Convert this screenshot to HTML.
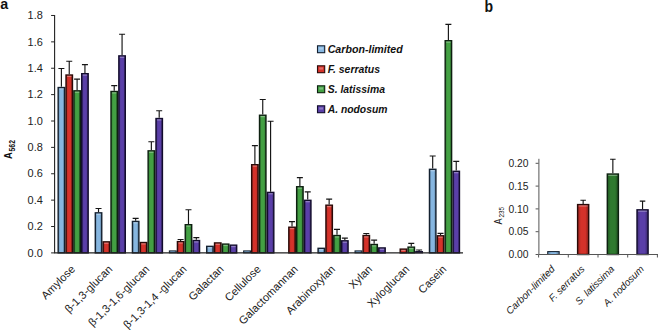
<!DOCTYPE html>
<html><head><meta charset="utf-8"><title>Figure</title>
<style>html,body{margin:0;padding:0;background:#fff}svg{display:block}</style></head>
<body>
<svg width="658" height="330" viewBox="0 0 658 330" font-family="'Liberation Sans', Arial, sans-serif">
<rect width="658" height="330" fill="#fff"/>
<defs>
<linearGradient id="g0" x1="0" x2="1" y1="0" y2="0"><stop offset="0" stop-color="#6083a1"/><stop offset="0.3" stop-color="#86b6e0"/><stop offset="0.7" stop-color="#86b6e0"/><stop offset="1" stop-color="#506d86"/></linearGradient>
<linearGradient id="g1" x1="0" x2="1" y1="0" y2="0"><stop offset="0" stop-color="#99241e"/><stop offset="0.3" stop-color="#d5322a"/><stop offset="0.7" stop-color="#d5322a"/><stop offset="1" stop-color="#7f1e19"/></linearGradient>
<linearGradient id="g2" x1="0" x2="1" y1="0" y2="0"><stop offset="0" stop-color="#307330"/><stop offset="0.3" stop-color="#43a043"/><stop offset="0.7" stop-color="#43a043"/><stop offset="1" stop-color="#286028"/></linearGradient>
<linearGradient id="g3" x1="0" x2="1" y1="0" y2="0"><stop offset="0" stop-color="#402d78"/><stop offset="0.3" stop-color="#5a3fa8"/><stop offset="0.7" stop-color="#5a3fa8"/><stop offset="1" stop-color="#362564"/></linearGradient>
<linearGradient id="g4" x1="0" x2="1" y1="0" y2="0"><stop offset="0" stop-color="#215721"/><stop offset="0.3" stop-color="#2f7a2f"/><stop offset="0.7" stop-color="#2f7a2f"/><stop offset="1" stop-color="#1c491c"/></linearGradient>
</defs>
<path d="M61.39 86.84V68.50M58.39 68.50H64.39" stroke="#151515" stroke-width="1.15" fill="none"/>
<rect x="58.17" y="87.54" width="6.45" height="165.36" fill="url(#g0)" stroke="#142130" stroke-width="1.4"/>
<rect x="59.16" y="88.24" width="4.45" height="1.3" fill="#fff" opacity="0.33"/>
<path d="M69.24 74.31V61.25M66.24 61.25H72.24" stroke="#151515" stroke-width="1.15" fill="none"/>
<rect x="66.02" y="75.01" width="6.45" height="177.89" fill="url(#g1)" stroke="#2a0a08" stroke-width="1.4"/>
<rect x="67.02" y="75.71" width="4.45" height="1.3" fill="#fff" opacity="0.33"/>
<path d="M77.09 90.14V79.06M74.09 79.06H80.09" stroke="#151515" stroke-width="1.15" fill="none"/>
<rect x="73.87" y="90.84" width="6.45" height="162.06" fill="url(#g2)" stroke="#0d2010" stroke-width="1.4"/>
<rect x="74.87" y="91.54" width="4.45" height="1.3" fill="#fff" opacity="0.33"/>
<path d="M84.94 72.99V64.55M81.94 64.55H87.94" stroke="#151515" stroke-width="1.15" fill="none"/>
<rect x="81.72" y="73.69" width="6.45" height="179.21" fill="url(#g3)" stroke="#120c2c" stroke-width="1.4"/>
<rect x="82.72" y="74.39" width="4.45" height="1.3" fill="#fff" opacity="0.33"/>
<path d="M98.52 212.14V208.45M95.52 208.45H101.52" stroke="#151515" stroke-width="1.15" fill="none"/>
<rect x="95.30" y="212.84" width="6.45" height="40.06" fill="url(#g0)" stroke="#142130" stroke-width="1.4"/>
<rect x="96.30" y="213.54" width="4.45" height="1.3" fill="#fff" opacity="0.33"/>
<rect x="103.14" y="241.86" width="6.45" height="11.04" fill="url(#g1)" stroke="#2a0a08" stroke-width="1.4"/>
<rect x="104.14" y="242.56" width="4.45" height="1.3" fill="#fff" opacity="0.33"/>
<path d="M114.22 90.79V85.65M111.22 85.65H117.22" stroke="#151515" stroke-width="1.15" fill="none"/>
<rect x="111.00" y="91.49" width="6.45" height="161.41" fill="url(#g2)" stroke="#0d2010" stroke-width="1.4"/>
<rect x="112.00" y="92.19" width="4.45" height="1.3" fill="#fff" opacity="0.33"/>
<path d="M122.07 55.18V34.21M119.07 34.21H125.07" stroke="#151515" stroke-width="1.15" fill="none"/>
<rect x="118.84" y="55.88" width="6.45" height="197.02" fill="url(#g3)" stroke="#120c2c" stroke-width="1.4"/>
<rect x="119.84" y="56.58" width="4.45" height="1.3" fill="#fff" opacity="0.33"/>
<path d="M135.65 220.72V218.34M132.65 218.34H138.65" stroke="#151515" stroke-width="1.15" fill="none"/>
<rect x="132.43" y="221.42" width="6.45" height="31.48" fill="url(#g0)" stroke="#142130" stroke-width="1.4"/>
<rect x="133.43" y="222.12" width="4.45" height="1.3" fill="#fff" opacity="0.33"/>
<rect x="140.28" y="242.52" width="6.45" height="10.38" fill="url(#g1)" stroke="#2a0a08" stroke-width="1.4"/>
<rect x="141.28" y="243.22" width="4.45" height="1.3" fill="#fff" opacity="0.33"/>
<path d="M151.35 150.15V141.71M148.35 141.71H154.35" stroke="#151515" stroke-width="1.15" fill="none"/>
<rect x="148.12" y="150.85" width="6.45" height="102.05" fill="url(#g2)" stroke="#0d2010" stroke-width="1.4"/>
<rect x="149.13" y="151.55" width="4.45" height="1.3" fill="#fff" opacity="0.33"/>
<path d="M159.20 117.83V110.71M156.20 110.71H162.20" stroke="#151515" stroke-width="1.15" fill="none"/>
<rect x="155.98" y="118.53" width="6.45" height="134.37" fill="url(#g3)" stroke="#120c2c" stroke-width="1.4"/>
<rect x="156.98" y="119.23" width="4.45" height="1.3" fill="#fff" opacity="0.33"/>
<rect x="169.36" y="250.89" width="6.85" height="2.01" fill="url(#g0)" stroke="#142130" stroke-width="1.0"/>
<path d="M180.63 240.90V239.45M177.63 239.45H183.63" stroke="#151515" stroke-width="1.15" fill="none"/>
<rect x="177.41" y="241.60" width="6.45" height="11.30" fill="url(#g1)" stroke="#2a0a08" stroke-width="1.4"/>
<rect x="178.41" y="242.30" width="4.45" height="1.3" fill="#fff" opacity="0.33"/>
<path d="M188.48 224.01V209.77M185.48 209.77H191.48" stroke="#151515" stroke-width="1.15" fill="none"/>
<rect x="185.25" y="224.71" width="6.45" height="28.19" fill="url(#g2)" stroke="#0d2010" stroke-width="1.4"/>
<rect x="186.26" y="225.41" width="4.45" height="1.3" fill="#fff" opacity="0.33"/>
<path d="M196.33 239.84V237.60M193.33 237.60H199.33" stroke="#151515" stroke-width="1.15" fill="none"/>
<rect x="193.11" y="240.54" width="6.45" height="12.36" fill="url(#g3)" stroke="#120c2c" stroke-width="1.4"/>
<rect x="194.11" y="241.24" width="4.45" height="1.3" fill="#fff" opacity="0.33"/>
<rect x="206.69" y="246.35" width="6.45" height="6.55" fill="url(#g0)" stroke="#142130" stroke-width="1.4"/>
<rect x="207.69" y="247.05" width="4.45" height="1.3" fill="#fff" opacity="0.33"/>
<rect x="214.53" y="242.92" width="6.45" height="9.98" fill="url(#g1)" stroke="#2a0a08" stroke-width="1.4"/>
<rect x="215.54" y="243.62" width="4.45" height="1.3" fill="#fff" opacity="0.33"/>
<rect x="222.38" y="244.10" width="6.45" height="8.80" fill="url(#g2)" stroke="#0d2010" stroke-width="1.4"/>
<rect x="223.39" y="244.80" width="4.45" height="1.3" fill="#fff" opacity="0.33"/>
<rect x="230.24" y="245.16" width="6.45" height="7.74" fill="url(#g3)" stroke="#120c2c" stroke-width="1.4"/>
<rect x="231.24" y="245.86" width="4.45" height="1.3" fill="#fff" opacity="0.33"/>
<rect x="243.62" y="250.89" width="6.85" height="2.01" fill="url(#g0)" stroke="#142130" stroke-width="1.0"/>
<path d="M254.89 164.00V145.67M251.89 145.67H257.89" stroke="#151515" stroke-width="1.15" fill="none"/>
<rect x="251.66" y="164.70" width="6.45" height="88.20" fill="url(#g1)" stroke="#2a0a08" stroke-width="1.4"/>
<rect x="252.67" y="165.40" width="4.45" height="1.3" fill="#fff" opacity="0.33"/>
<path d="M262.74 114.54V99.50M259.74 99.50H265.74" stroke="#151515" stroke-width="1.15" fill="none"/>
<rect x="259.51" y="115.24" width="6.45" height="137.66" fill="url(#g2)" stroke="#0d2010" stroke-width="1.4"/>
<rect x="260.51" y="115.94" width="4.45" height="1.3" fill="#fff" opacity="0.33"/>
<path d="M270.59 191.70V121.26M267.59 121.26H273.59" stroke="#151515" stroke-width="1.15" fill="none"/>
<rect x="267.37" y="192.40" width="6.45" height="60.50" fill="url(#g3)" stroke="#120c2c" stroke-width="1.4"/>
<rect x="268.37" y="193.10" width="4.45" height="1.3" fill="#fff" opacity="0.33"/>
<path d="M292.02 226.52V221.64M289.02 221.64H295.02" stroke="#151515" stroke-width="1.15" fill="none"/>
<rect x="288.80" y="227.22" width="6.45" height="25.68" fill="url(#g1)" stroke="#2a0a08" stroke-width="1.4"/>
<rect x="289.80" y="227.92" width="4.45" height="1.3" fill="#fff" opacity="0.33"/>
<path d="M299.87 186.03V177.59M296.87 177.59H302.87" stroke="#151515" stroke-width="1.15" fill="none"/>
<rect x="296.65" y="186.73" width="6.45" height="66.17" fill="url(#g2)" stroke="#0d2010" stroke-width="1.4"/>
<rect x="297.65" y="187.43" width="4.45" height="1.3" fill="#fff" opacity="0.33"/>
<path d="M307.72 199.61V191.83M304.72 191.83H310.72" stroke="#151515" stroke-width="1.15" fill="none"/>
<rect x="304.50" y="200.31" width="6.45" height="52.59" fill="url(#g3)" stroke="#120c2c" stroke-width="1.4"/>
<rect x="305.50" y="201.01" width="4.45" height="1.3" fill="#fff" opacity="0.33"/>
<rect x="318.08" y="248.32" width="6.45" height="4.58" fill="url(#g0)" stroke="#142130" stroke-width="1.4"/>
<rect x="319.08" y="249.02" width="4.45" height="1.3" fill="#fff" opacity="0.33"/>
<path d="M329.15 204.49V199.08M326.15 199.08H332.15" stroke="#151515" stroke-width="1.15" fill="none"/>
<rect x="325.93" y="205.19" width="6.45" height="47.71" fill="url(#g1)" stroke="#2a0a08" stroke-width="1.4"/>
<rect x="326.93" y="205.89" width="4.45" height="1.3" fill="#fff" opacity="0.33"/>
<path d="M337.00 234.83V229.42M334.00 229.42H340.00" stroke="#151515" stroke-width="1.15" fill="none"/>
<rect x="333.78" y="235.53" width="6.45" height="17.37" fill="url(#g2)" stroke="#0d2010" stroke-width="1.4"/>
<rect x="334.78" y="236.23" width="4.45" height="1.3" fill="#fff" opacity="0.33"/>
<path d="M344.85 240.11V238.13M341.85 238.13H347.85" stroke="#151515" stroke-width="1.15" fill="none"/>
<rect x="341.63" y="240.81" width="6.45" height="12.09" fill="url(#g3)" stroke="#120c2c" stroke-width="1.4"/>
<rect x="342.63" y="241.51" width="4.45" height="1.3" fill="#fff" opacity="0.33"/>
<rect x="355.01" y="250.89" width="6.85" height="2.01" fill="url(#g0)" stroke="#142130" stroke-width="1.0"/>
<path d="M366.28 234.83V233.51M363.28 233.51H369.28" stroke="#151515" stroke-width="1.15" fill="none"/>
<rect x="363.06" y="235.53" width="6.45" height="17.37" fill="url(#g1)" stroke="#2a0a08" stroke-width="1.4"/>
<rect x="364.06" y="236.23" width="4.45" height="1.3" fill="#fff" opacity="0.33"/>
<path d="M374.13 243.80V240.11M371.13 240.11H377.13" stroke="#151515" stroke-width="1.15" fill="none"/>
<rect x="370.91" y="244.50" width="6.45" height="8.40" fill="url(#g2)" stroke="#0d2010" stroke-width="1.4"/>
<rect x="371.91" y="245.20" width="4.45" height="1.3" fill="#fff" opacity="0.33"/>
<rect x="378.76" y="247.93" width="6.45" height="4.97" fill="url(#g3)" stroke="#120c2c" stroke-width="1.4"/>
<rect x="379.76" y="248.63" width="4.45" height="1.3" fill="#fff" opacity="0.33"/>
<rect x="400.19" y="249.12" width="6.45" height="3.78" fill="url(#g1)" stroke="#2a0a08" stroke-width="1.4"/>
<rect x="401.19" y="249.82" width="4.45" height="1.3" fill="#fff" opacity="0.33"/>
<path d="M411.26 246.44V243.40M408.26 243.40H414.26" stroke="#151515" stroke-width="1.15" fill="none"/>
<rect x="408.04" y="247.14" width="6.45" height="5.76" fill="url(#g2)" stroke="#0d2010" stroke-width="1.4"/>
<rect x="409.04" y="247.84" width="4.45" height="1.3" fill="#fff" opacity="0.33"/>
<path d="M419.11 251.05V250.00M416.11 250.00H422.11" stroke="#151515" stroke-width="1.15" fill="none"/>
<rect x="415.69" y="251.55" width="6.85" height="1.35" fill="url(#g3)" stroke="#120c2c" stroke-width="1.0"/>
<path d="M432.69 168.62V155.95M429.69 155.95H435.69" stroke="#151515" stroke-width="1.15" fill="none"/>
<rect x="429.47" y="169.32" width="6.45" height="83.58" fill="url(#g0)" stroke="#142130" stroke-width="1.4"/>
<rect x="430.47" y="170.02" width="4.45" height="1.3" fill="#fff" opacity="0.33"/>
<path d="M440.54 235.09V233.38M437.54 233.38H443.54" stroke="#151515" stroke-width="1.15" fill="none"/>
<rect x="437.32" y="235.79" width="6.45" height="17.11" fill="url(#g1)" stroke="#2a0a08" stroke-width="1.4"/>
<rect x="438.32" y="236.49" width="4.45" height="1.3" fill="#fff" opacity="0.33"/>
<path d="M448.39 40.01V24.32M445.39 24.32H451.39" stroke="#151515" stroke-width="1.15" fill="none"/>
<rect x="445.17" y="40.71" width="6.45" height="212.19" fill="url(#g2)" stroke="#0d2010" stroke-width="1.4"/>
<rect x="446.17" y="41.41" width="4.45" height="1.3" fill="#fff" opacity="0.33"/>
<path d="M456.24 170.59V161.36M453.24 161.36H459.24" stroke="#151515" stroke-width="1.15" fill="none"/>
<rect x="453.02" y="171.29" width="6.45" height="81.61" fill="url(#g3)" stroke="#120c2c" stroke-width="1.4"/>
<rect x="454.02" y="171.99" width="4.45" height="1.3" fill="#fff" opacity="0.33"/>
<path d="M54.6 15V252.9H463.0" stroke="#222" stroke-width="1.1" fill="none"/>
<path d="M51.1 252.90H54.6" stroke="#222" stroke-width="1"/>
<text x="42.8" y="256.60" font-size="10.6" textLength="15.2" lengthAdjust="spacingAndGlyphs" text-anchor="end" fill="#222">0.0</text>
<path d="M51.1 226.52H54.6" stroke="#222" stroke-width="1"/>
<text x="42.8" y="230.22" font-size="10.6" textLength="15.2" lengthAdjust="spacingAndGlyphs" text-anchor="end" fill="#222">0.2</text>
<path d="M51.1 200.14H54.6" stroke="#222" stroke-width="1"/>
<text x="42.8" y="203.84" font-size="10.6" textLength="15.2" lengthAdjust="spacingAndGlyphs" text-anchor="end" fill="#222">0.4</text>
<path d="M51.1 173.76H54.6" stroke="#222" stroke-width="1"/>
<text x="42.8" y="177.46" font-size="10.6" textLength="15.2" lengthAdjust="spacingAndGlyphs" text-anchor="end" fill="#222">0.6</text>
<path d="M51.1 147.38H54.6" stroke="#222" stroke-width="1"/>
<text x="42.8" y="151.08" font-size="10.6" textLength="15.2" lengthAdjust="spacingAndGlyphs" text-anchor="end" fill="#222">0.8</text>
<path d="M51.1 121.00H54.6" stroke="#222" stroke-width="1"/>
<text x="42.8" y="124.70" font-size="10.6" textLength="15.2" lengthAdjust="spacingAndGlyphs" text-anchor="end" fill="#222">1.0</text>
<path d="M51.1 94.62H54.6" stroke="#222" stroke-width="1"/>
<text x="42.8" y="98.32" font-size="10.6" textLength="15.2" lengthAdjust="spacingAndGlyphs" text-anchor="end" fill="#222">1.2</text>
<path d="M51.1 68.24H54.6" stroke="#222" stroke-width="1"/>
<text x="42.8" y="71.94" font-size="10.6" textLength="15.2" lengthAdjust="spacingAndGlyphs" text-anchor="end" fill="#222">1.4</text>
<path d="M51.1 41.86H54.6" stroke="#222" stroke-width="1"/>
<text x="42.8" y="45.56" font-size="10.6" textLength="15.2" lengthAdjust="spacingAndGlyphs" text-anchor="end" fill="#222">1.6</text>
<path d="M51.1 15.48H54.6" stroke="#222" stroke-width="1"/>
<text x="42.8" y="19.18" font-size="10.6" textLength="15.2" lengthAdjust="spacingAndGlyphs" text-anchor="end" fill="#222">1.8</text>
<text transform="translate(75.87,269.80) rotate(-45)" font-size="11.1" text-anchor="end" fill="#222">Amylose</text>
<text transform="translate(113.00,269.80) rotate(-45)" font-size="11.1" text-anchor="end" fill="#222">β-1,3-glucan</text>
<text transform="translate(150.12,269.80) rotate(-45)" font-size="11.1" text-anchor="end" fill="#222">β-1,3-1,6-glucan</text>
<text transform="translate(187.25,269.80) rotate(-45)" font-size="11.1" text-anchor="end" fill="#222">β-1,3-1,4 -glucan</text>
<text transform="translate(224.38,269.80) rotate(-45)" font-size="11.1" text-anchor="end" fill="#222">Galactan</text>
<text transform="translate(261.51,269.80) rotate(-45)" font-size="11.1" text-anchor="end" fill="#222">Cellulose</text>
<text transform="translate(298.65,269.80) rotate(-45)" font-size="11.1" text-anchor="end" fill="#222">Galactomannan</text>
<text transform="translate(335.78,269.80) rotate(-45)" font-size="11.1" text-anchor="end" fill="#222">Arabinoxylan</text>
<text transform="translate(372.91,269.80) rotate(-45)" font-size="11.1" text-anchor="end" fill="#222">Xylan</text>
<text transform="translate(410.04,269.80) rotate(-45)" font-size="11.1" text-anchor="end" fill="#222">Xyloglucan</text>
<text transform="translate(447.17,269.80) rotate(-45)" font-size="11.1" text-anchor="end" fill="#222">Casein</text>
<text transform="translate(12.0,158.9) rotate(-90) scale(0.92,1)" font-size="10.3" font-weight="bold" fill="#111">A</text>
<text transform="translate(15.2,151.5) rotate(-90) scale(0.8,1)" font-size="8.6" font-weight="bold" fill="#111">562</text>
<rect x="317.5" y="45.8" width="7.2" height="6.9" fill="#86b6e0" stroke="#142130" stroke-width="1.1"/>
<rect x="319.2" y="47.4" width="3.8" height="2.2" fill="#fff" opacity="0.3"/>
<text x="327.7" y="52.8" font-size="10.7" textLength="75.0" lengthAdjust="spacingAndGlyphs" font-weight="bold" font-style="italic" fill="#111">Carbon-limited</text>
<rect x="317.5" y="65.8" width="7.2" height="6.9" fill="#d5322a" stroke="#2a0a08" stroke-width="1.1"/>
<rect x="319.2" y="67.4" width="3.8" height="2.2" fill="#fff" opacity="0.3"/>
<text x="327.7" y="72.8" font-size="10.7" textLength="52.4" lengthAdjust="spacingAndGlyphs" font-weight="bold" font-style="italic" fill="#111">F. serratus</text>
<rect x="317.5" y="85.8" width="7.2" height="6.9" fill="#43a043" stroke="#0d2010" stroke-width="1.1"/>
<rect x="319.2" y="87.4" width="3.8" height="2.2" fill="#fff" opacity="0.3"/>
<text x="327.7" y="92.8" font-size="10.7" textLength="57.3" lengthAdjust="spacingAndGlyphs" font-weight="bold" font-style="italic" fill="#111">S. latissima</text>
<rect x="317.5" y="105.8" width="7.2" height="6.9" fill="#5a3fa8" stroke="#120c2c" stroke-width="1.1"/>
<rect x="319.2" y="107.4" width="3.8" height="2.2" fill="#fff" opacity="0.3"/>
<text x="327.7" y="112.8" font-size="10.7" textLength="59.7" lengthAdjust="spacingAndGlyphs" font-weight="bold" font-style="italic" fill="#111">A. nodosum</text>
<text transform="translate(0.2,9.1) scale(0.98,1)" font-size="14.6" font-weight="bold" fill="#111">a</text>
<text transform="translate(484.5,11.9) scale(0.89,1)" font-size="15.8" font-weight="bold" fill="#111">b</text>
<rect x="547.70" y="251.58" width="11.50" height="2.92" fill="url(#g0)" stroke="#142130" stroke-width="1.0"/>
<path d="M583.15 203.88V200.24M580.40 200.24H585.90" stroke="#151515" stroke-width="1.15" fill="none"/>
<rect x="577.60" y="204.58" width="11.10" height="49.92" fill="url(#g1)" stroke="#2a0a08" stroke-width="1.4"/>
<rect x="578.60" y="205.28" width="9.10" height="1.3" fill="#fff" opacity="0.33"/>
<path d="M612.85 173.33V159.20M610.10 159.20H615.60" stroke="#151515" stroke-width="1.15" fill="none"/>
<rect x="607.30" y="174.03" width="11.10" height="80.47" fill="url(#g4)" stroke="#0d2010" stroke-width="1.4"/>
<rect x="608.30" y="174.73" width="9.10" height="1.3" fill="#fff" opacity="0.33"/>
<path d="M642.55 209.13V201.15M639.80 201.15H645.30" stroke="#151515" stroke-width="1.15" fill="none"/>
<rect x="637.00" y="209.83" width="11.10" height="44.67" fill="url(#g3)" stroke="#120c2c" stroke-width="1.4"/>
<rect x="638.00" y="210.53" width="9.10" height="1.3" fill="#fff" opacity="0.33"/>
<path d="M538.9 158.8V254.5H658" stroke="#555" stroke-width="1" fill="none"/>
<path d="M535.6 254.50H538.6" stroke="#555" stroke-width="1"/>
<text x="528.5" y="258.10" font-size="10.3" text-anchor="end" fill="#222">0.00</text>
<path d="M535.6 231.70H538.6" stroke="#555" stroke-width="1"/>
<text x="528.5" y="235.30" font-size="10.3" text-anchor="end" fill="#222">0.05</text>
<path d="M535.6 208.90H538.6" stroke="#555" stroke-width="1"/>
<text x="528.5" y="212.50" font-size="10.3" text-anchor="end" fill="#222">0.10</text>
<path d="M535.6 186.10H538.6" stroke="#555" stroke-width="1"/>
<text x="528.5" y="189.70" font-size="10.3" text-anchor="end" fill="#222">0.15</text>
<path d="M535.6 163.30H538.6" stroke="#555" stroke-width="1"/>
<text x="528.5" y="166.90" font-size="10.3" text-anchor="end" fill="#222">0.20</text>
<path d="M538.60 254.5V257.5" stroke="#555" stroke-width="1"/>
<path d="M568.30 254.5V257.5" stroke="#555" stroke-width="1"/>
<path d="M598.00 254.5V257.5" stroke="#555" stroke-width="1"/>
<path d="M627.70 254.5V257.5" stroke="#555" stroke-width="1"/>
<path d="M657.40 254.5V257.5" stroke="#555" stroke-width="1"/>
<text transform="translate(555.45,269.70) rotate(-45)" font-size="9.9" font-style="italic" text-anchor="end" fill="#222">Carbon-limited</text>
<text transform="translate(585.15,269.70) rotate(-45)" font-size="9.9" font-style="italic" text-anchor="end" fill="#222">F. serratus</text>
<text transform="translate(614.85,269.70) rotate(-45)" font-size="9.9" font-style="italic" text-anchor="end" fill="#222">S. latissima</text>
<text transform="translate(644.55,269.70) rotate(-45)" font-size="9.9" font-style="italic" text-anchor="end" fill="#222">A. nodosum</text>
<text transform="translate(502,224.4) rotate(-90) scale(0.9,1)" font-size="10.2" fill="#222">A</text>
<text transform="translate(504.4,217.6) rotate(-90) scale(0.86,1)" font-size="7.4" fill="#111">235</text>
</svg>
</body></html>
